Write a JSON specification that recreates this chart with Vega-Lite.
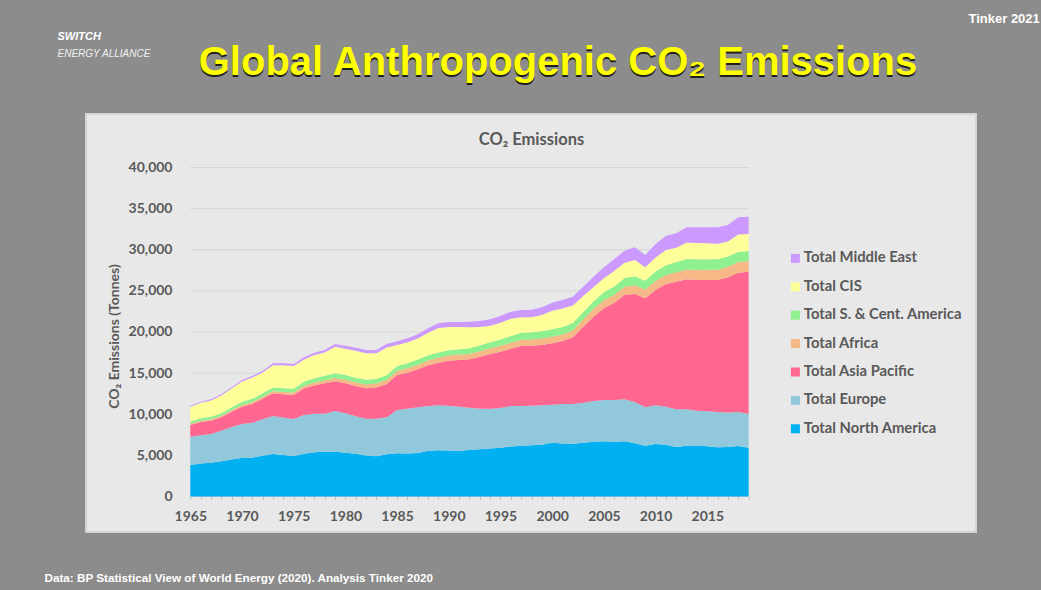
{
  "$schema": "https://vega.github.io/schema/vega-lite/v6.json",
  "width": 890,
  "height": 418,
  "autosize": {"type": "none"},
  "padding": {"left": 86, "top": 114, "right": 65, "bottom": 58},
  "background": "#8c8c8c",
  "view": {"fill": "#e8e8e8", "stroke": "#d4d4d4", "strokeWidth": 2},
  "title": {
    "text": "Global Anthropogenic CO₂ Emissions",
    "subtitle": "Global Anthropogenic CO₂ Emissions\u2009",
    "anchor": "middle",
    "frame": "group",
    "dx": 27,
    "dy": 75,
    "offset": 0,
    "font": "Liberation Sans",
    "fontSize": 40,
    "fontWeight": "bold",
    "color": "#202020",
    "subtitleFont": "Liberation Sans",
    "subtitleFontSize": 40,
    "subtitleFontWeight": "bold",
    "subtitleColor": "#ffff00",
    "subtitlePadding": -42
  },
  "resolve": {"axis": {"x": "independent", "y": "independent"}},
  "layer": [
    {
      "data": {"values": [{"v": 5000}, {"v": 10000}, {"v": 15000}, {"v": 20000}, {"v": 25000}, {"v": 30000}, {"v": 35000}, {"v": 40000}]},
      "mark": {"type": "rule", "color": "#d6d6d6", "strokeWidth": 1},
      "encoding": {
        "y": {
          "field": "v", "type": "quantitative",
          "scale": {"domain": [-4316, 46504], "nice": false, "zero": false},
          "axis": {"orient": "right", "labels": false, "ticks": false, "domain": false, "grid": false,
            "title": "Tinker 2021", "titleAngle": 0, "titleX": -8, "titleY": -92, "titleAlign": "left", "titleBaseline": "alphabetic",
            "titleFont": "Liberation Sans", "titleFontSize": 13, "titleFontWeight": "bold", "titleColor": "#ffffff"}
        },
        "x": {
          "datum": 1965, "type": "quantitative",
          "scale": {"domain": [1954.913, 2040.99], "nice": false, "zero": false},
          "axis": {"orient": "top", "labels": false, "ticks": false, "domain": false, "grid": false,
            "title": "CO₂ Emissions", "titleX": 445, "titleY": 30, "titleAlign": "center", "titleBaseline": "alphabetic",
            "titleFont": "Lato", "titleFontSize": 16.5, "titleFontWeight": "bold", "titleColor": "#595959"}
        },
        "x2": {"datum": 2019}
      }
    },
    {
      "data": {"values": [{}]},
      "mark": {"type": "rule", "color": "#d0d0d0", "strokeWidth": 1},
      "encoding": {
        "y": {
          "datum": 0, "type": "quantitative",
          "axis": {"orient": "right", "labels": false, "ticks": false, "domain": false, "grid": false,
            "title": "ENERGY ALLIANCE", "titleAngle": 0, "titleX": -919, "titleY": -58, "titleAlign": "left", "titleBaseline": "alphabetic",
            "titleFont": "Liberation Sans", "titleFontSize": 10, "titleFontWeight": "normal", "titleFontStyle": "italic", "titleColor": "#f0f0f0"}
        },
        "x": {
          "datum": 1965, "type": "quantitative",
          "axis": {"orient": "top", "labels": false, "ticks": false, "domain": false, "grid": false,
            "title": "SWITCH", "titleX": -29, "titleY": -75, "titleAlign": "left", "titleBaseline": "alphabetic",
            "titleFont": "Liberation Sans", "titleFontSize": 11, "titleFontWeight": "bold", "titleFontStyle": "italic", "titleColor": "#ffffff"}
        },
        "x2": {"datum": 2019}
      }
    },
    {
      "data": {"values": [
        {"year": 1965, "g_NA": 3830, "f_EU": 3440, "e_AP": 1420, "d_AF": 150, "c_SCA": 290, "b_CIS": 1763, "a_ME": 110},
        {"year": 1966, "g_NA": 4000, "f_EU": 3450, "e_AP": 1610, "d_AF": 160, "c_SCA": 300, "b_CIS": 1890, "a_ME": 120},
        {"year": 1967, "g_NA": 4100, "f_EU": 3500, "e_AP": 1620, "d_AF": 165, "c_SCA": 310, "b_CIS": 1985, "a_ME": 130},
        {"year": 1968, "g_NA": 4300, "f_EU": 3700, "e_AP": 1630, "d_AF": 175, "c_SCA": 330, "b_CIS": 2145, "a_ME": 140},
        {"year": 1969, "g_NA": 4500, "f_EU": 3950, "e_AP": 1860, "d_AF": 195, "c_SCA": 350, "b_CIS": 2275, "a_ME": 150},
        {"year": 1970, "g_NA": 4680, "f_EU": 4135, "e_AP": 2105, "d_AF": 215, "c_SCA": 370, "b_CIS": 2485, "a_ME": 170},
        {"year": 1971, "g_NA": 4720, "f_EU": 4250, "e_AP": 2280, "d_AF": 235, "c_SCA": 390, "b_CIS": 2585, "a_ME": 190},
        {"year": 1972, "g_NA": 4950, "f_EU": 4450, "e_AP": 2490, "d_AF": 250, "c_SCA": 410, "b_CIS": 2540, "a_ME": 210},
        {"year": 1973, "g_NA": 5170, "f_EU": 4620, "e_AP": 2760, "d_AF": 270, "c_SCA": 440, "b_CIS": 2700, "a_ME": 230},
        {"year": 1974, "g_NA": 5050, "f_EU": 4550, "e_AP": 2820, "d_AF": 285, "c_SCA": 450, "b_CIS": 2795, "a_ME": 240},
        {"year": 1975, "g_NA": 4925, "f_EU": 4495, "e_AP": 2920, "d_AF": 300, "c_SCA": 460, "b_CIS": 2760, "a_ME": 250},
        {"year": 1976, "g_NA": 5200, "f_EU": 4710, "e_AP": 3240, "d_AF": 320, "c_SCA": 490, "b_CIS": 2690, "a_ME": 270},
        {"year": 1977, "g_NA": 5370, "f_EU": 4700, "e_AP": 3450, "d_AF": 345, "c_SCA": 510, "b_CIS": 2815, "a_ME": 290},
        {"year": 1978, "g_NA": 5450, "f_EU": 4620, "e_AP": 3690, "d_AF": 370, "c_SCA": 540, "b_CIS": 2830, "a_ME": 310},
        {"year": 1979, "g_NA": 5450, "f_EU": 4945, "e_AP": 3615, "d_AF": 400, "c_SCA": 570, "b_CIS": 3220, "a_ME": 340},
        {"year": 1980, "g_NA": 5330, "f_EU": 4780, "e_AP": 3650, "d_AF": 420, "c_SCA": 590, "b_CIS": 3200, "a_ME": 360},
        {"year": 1981, "g_NA": 5200, "f_EU": 4550, "e_AP": 3680, "d_AF": 450, "c_SCA": 570, "b_CIS": 3260, "a_ME": 380},
        {"year": 1982, "g_NA": 5000, "f_EU": 4460, "e_AP": 3690, "d_AF": 470, "c_SCA": 570, "b_CIS": 3230, "a_ME": 390},
        {"year": 1983, "g_NA": 4880, "f_EU": 4580, "e_AP": 3800, "d_AF": 480, "c_SCA": 560, "b_CIS": 3110, "a_ME": 400},
        {"year": 1984, "g_NA": 5150, "f_EU": 4480, "e_AP": 4050, "d_AF": 500, "c_SCA": 570, "b_CIS": 3370, "a_ME": 420},
        {"year": 1985, "g_NA": 5250, "f_EU": 5270, "e_AP": 4250, "d_AF": 520, "c_SCA": 580, "b_CIS": 2560, "a_ME": 450},
        {"year": 1986, "g_NA": 5230, "f_EU": 5450, "e_AP": 4370, "d_AF": 540, "c_SCA": 610, "b_CIS": 2550, "a_ME": 480},
        {"year": 1987, "g_NA": 5300, "f_EU": 5540, "e_AP": 4620, "d_AF": 560, "c_SCA": 630, "b_CIS": 2570, "a_ME": 500},
        {"year": 1988, "g_NA": 5570, "f_EU": 5430, "e_AP": 4950, "d_AF": 590, "c_SCA": 640, "b_CIS": 2740, "a_ME": 530},
        {"year": 1989, "g_NA": 5620, "f_EU": 5470, "e_AP": 5180, "d_AF": 610, "c_SCA": 640, "b_CIS": 2980, "a_ME": 560},
        {"year": 1990, "g_NA": 5600, "f_EU": 5440, "e_AP": 5470, "d_AF": 640, "c_SCA": 640, "b_CIS": 2830, "a_ME": 600},
        {"year": 1991, "g_NA": 5560, "f_EU": 5360, "e_AP": 5680, "d_AF": 650, "c_SCA": 660, "b_CIS": 2690, "a_ME": 620},
        {"year": 1992, "g_NA": 5650, "f_EU": 5150, "e_AP": 5880, "d_AF": 660, "c_SCA": 680, "b_CIS": 2550, "a_ME": 680},
        {"year": 1993, "g_NA": 5750, "f_EU": 4930, "e_AP": 6320, "d_AF": 670, "c_SCA": 700, "b_CIS": 2240, "a_ME": 730},
        {"year": 1994, "g_NA": 5850, "f_EU": 4830, "e_AP": 6650, "d_AF": 690, "c_SCA": 730, "b_CIS": 2010, "a_ME": 780},
        {"year": 1995, "g_NA": 5940, "f_EU": 4820, "e_AP": 6850, "d_AF": 720, "c_SCA": 770, "b_CIS": 2030, "a_ME": 820},
        {"year": 1996, "g_NA": 6080, "f_EU": 4920, "e_AP": 6970, "d_AF": 730, "c_SCA": 810, "b_CIS": 2110, "a_ME": 850},
        {"year": 1997, "g_NA": 6180, "f_EU": 4820, "e_AP": 7300, "d_AF": 750, "c_SCA": 850, "b_CIS": 1900, "a_ME": 880},
        {"year": 1998, "g_NA": 6220, "f_EU": 4810, "e_AP": 7300, "d_AF": 770, "c_SCA": 880, "b_CIS": 1820, "a_ME": 900},
        {"year": 1999, "g_NA": 6300, "f_EU": 4790, "e_AP": 7330, "d_AF": 780, "c_SCA": 890, "b_CIS": 1970, "a_ME": 940},
        {"year": 2000, "g_NA": 6540, "f_EU": 4620, "e_AP": 7460, "d_AF": 800, "c_SCA": 900, "b_CIS": 2260, "a_ME": 980},
        {"year": 2001, "g_NA": 6450, "f_EU": 4800, "e_AP": 7650, "d_AF": 810, "c_SCA": 910, "b_CIS": 2250, "a_ME": 1020},
        {"year": 2002, "g_NA": 6420, "f_EU": 4830, "e_AP": 8100, "d_AF": 830, "c_SCA": 900, "b_CIS": 2140, "a_ME": 1070},
        {"year": 2003, "g_NA": 6550, "f_EU": 4850, "e_AP": 9240, "d_AF": 880, "c_SCA": 910, "b_CIS": 1950, "a_ME": 1130},
        {"year": 2004, "g_NA": 6650, "f_EU": 4950, "e_AP": 10260, "d_AF": 930, "c_SCA": 950, "b_CIS": 1730, "a_ME": 1250},
        {"year": 2005, "g_NA": 6710, "f_EU": 5020, "e_AP": 11170, "d_AF": 960, "c_SCA": 980, "b_CIS": 1700, "a_ME": 1330},
        {"year": 2006, "g_NA": 6640, "f_EU": 5090, "e_AP": 11830, "d_AF": 970, "c_SCA": 1010, "b_CIS": 1880, "a_ME": 1420},
        {"year": 2007, "g_NA": 6710, "f_EU": 5100, "e_AP": 12690, "d_AF": 1000, "c_SCA": 1050, "b_CIS": 1880, "a_ME": 1460},
        {"year": 2008, "g_NA": 6480, "f_EU": 5010, "e_AP": 13130, "d_AF": 1060, "c_SCA": 1090, "b_CIS": 1970, "a_ME": 1560},
        {"year": 2009, "g_NA": 6180, "f_EU": 4660, "e_AP": 13260, "d_AF": 1060, "c_SCA": 1060, "b_CIS": 1640, "a_ME": 1500},
        {"year": 2010, "g_NA": 6380, "f_EU": 4710, "e_AP": 14010, "d_AF": 1110, "c_SCA": 1140, "b_CIS": 1710, "a_ME": 1640},
        {"year": 2011, "g_NA": 6300, "f_EU": 4620, "e_AP": 14920, "d_AF": 1100, "c_SCA": 1180, "b_CIS": 1850, "a_ME": 1700},
        {"year": 2012, "g_NA": 6020, "f_EU": 4580, "e_AP": 15520, "d_AF": 1150, "c_SCA": 1230, "b_CIS": 1740, "a_ME": 1760},
        {"year": 2013, "g_NA": 6180, "f_EU": 4420, "e_AP": 15800, "d_AF": 1190, "c_SCA": 1270, "b_CIS": 2020, "a_ME": 1850},
        {"year": 2014, "g_NA": 6200, "f_EU": 4230, "e_AP": 15890, "d_AF": 1230, "c_SCA": 1290, "b_CIS": 1990, "a_ME": 1900},
        {"year": 2015, "g_NA": 6100, "f_EU": 4260, "e_AP": 15960, "d_AF": 1250, "c_SCA": 1280, "b_CIS": 1930, "a_ME": 1950},
        {"year": 2016, "g_NA": 6000, "f_EU": 4270, "e_AP": 16050, "d_AF": 1260, "c_SCA": 1250, "b_CIS": 1910, "a_ME": 1990},
        {"year": 2017, "g_NA": 6020, "f_EU": 4180, "e_AP": 16450, "d_AF": 1290, "c_SCA": 1250, "b_CIS": 1820, "a_ME": 2000},
        {"year": 2018, "g_NA": 6140, "f_EU": 4130, "e_AP": 16940, "d_AF": 1300, "c_SCA": 1220, "b_CIS": 2130, "a_ME": 2090},
        {"year": 2019, "g_NA": 5940, "f_EU": 4090, "e_AP": 17300, "d_AF": 1310, "c_SCA": 1200, "b_CIS": 2070, "a_ME": 2110}
      ]},
      "transform": [{"fold": ["g_NA", "f_EU", "e_AP", "d_AF", "c_SCA", "b_CIS", "a_ME"], "as": ["region", "co2"]}],
      "mark": {"type": "area", "interpolate": "linear"},
      "encoding": {
        "x": {
          "field": "year", "type": "quantitative",
          "scale": {"domain": [1954.913, 2040.99], "nice": false, "zero": false},
          "axis": {
            "orient": "bottom", "offset": -35.5,
            "values": [1965,1966,1967,1968,1969,1970,1971,1972,1973,1974,1975,1976,1977,1978,1979,1980,1981,1982,1983,1984,1985,1986,1987,1988,1989,1990,1991,1992,1993,1994,1995,1996,1997,1998,1999,2000,2001,2002,2003,2004,2005,2006,2007,2008,2009,2010,2011,2012,2013,2014,2015,2016,2017,2018,2019],
            "labelExpr": "datum.value % 5 === 0 ? '' + datum.value : ''",
            "labelFont": "Lato", "labelFontSize": 14, "labelFontWeight": "bold", "labelColor": "#595959",
            "labelPadding": 9.5, "labelOverlap": false, "labelFlush": false, "labelBound": false,
            "tickSize": 3, "tickColor": "#c4c4c4", "domain": false, "grid": false,
            "title": "Data: BP Statistical View of World Energy (2020). Analysis Tinker 2020",
            "titleX": -42, "titleY": 84.5, "titleAlign": "left", "titleBaseline": "alphabetic",
            "titleFont": "Liberation Sans", "titleFontSize": 11.7, "titleFontWeight": "bold", "titleColor": "#ffffff"
          }
        },
        "y": {
          "field": "co2", "type": "quantitative", "stack": "zero",
          "scale": {"domain": [-4316, 46504], "nice": false, "zero": false},
          "axis": {
            "orient": "left", "offset": -104.3,
            "values": [0, 5000, 10000, 15000, 20000, 25000, 30000, 35000, 40000],
            "format": ",.0f",
            "labelFont": "Lato", "labelFontSize": 14, "labelFontWeight": "bold", "labelColor": "#595959",
            "labelPadding": 18.3, "ticks": false, "tickSize": 0, "domain": false, "grid": false,
            "title": "CO₂ Emissions (Tonnes)", "titleX": -76.3, "titleY": 222, "titleAngle": -90,
            "titleAlign": "center", "titleBaseline": "middle",
            "titleFont": "Lato", "titleFontSize": 14, "titleFontWeight": "bold", "titleColor": "#595959"
          }
        },
        "order": {"field": "region", "sort": "descending"},
        "color": {
          "field": "region", "type": "nominal",
          "scale": {
            "domain": ["a_ME", "b_CIS", "c_SCA", "d_AF", "e_AP", "f_EU", "g_NA"],
            "range": ["#cc99ff", "#ffff99", "#8ff08f", "#f6b886", "#ff6690", "#92c8dc", "#00b0f0"]
          },
          "legend": {
            "title": null, "orient": "none", "legendX": 702, "legendY": 137, "padding": 0,
            "symbolType": "square", "symbolSize": 81, "symbolStrokeWidth": 0,
            "labelFont": "Lato", "labelFontSize": 14.8, "labelFontWeight": "bold", "labelColor": "#595959",
            "labelOffset": 1, "rowPadding": 12.4, "labelLimit": 300,
            "labelExpr": "datum.label === 'a_ME' ? 'Total Middle East' : datum.label === 'b_CIS' ? 'Total CIS' : datum.label === 'c_SCA' ? 'Total S. & Cent. America' : datum.label === 'd_AF' ? 'Total Africa' : datum.label === 'e_AP' ? 'Total Asia Pacific' : datum.label === 'f_EU' ? 'Total Europe' : 'Total North America'"
          }
        }
      }
    }
  ]
}
